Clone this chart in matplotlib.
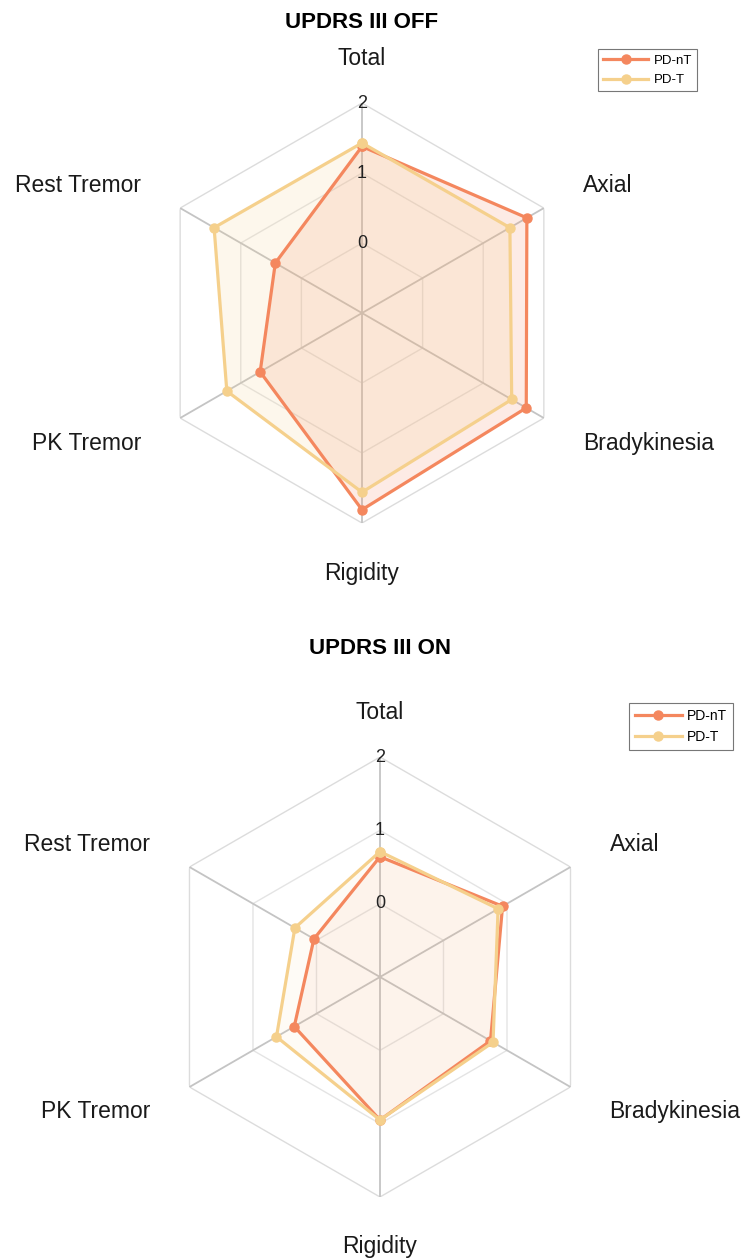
import numpy as np
import matplotlib
matplotlib.use("Agg")
import matplotlib.pyplot as plt

plt.rcParams['font.family'] = ['Liberation Sans', 'DejaVu Sans']

categories = ['Total', 'Axial', 'Bradykinesia', 'Rigidity', 'PK Tremor', 'Rest Tremor']
groups = ['PD-nT', 'PD-T']
colors = ['#f4875e', '#f5d08c']

off_pdnt = [1.38, 1.72, 1.71, 1.81, 0.68, 0.43]
off_pdt = [1.43, 1.44, 1.47, 1.56, 1.23, 1.44]
on_pdnt = [0.64, 0.93, 0.74, 0.95, 0.35, 0.04]
on_pdt = [0.71, 0.86, 0.78, 0.95, 0.63, 0.34]

r_ticks = [0, 1, 2]
r_min, r_max = -1, 2


def radar(ax, series, title, fill_alpha, title_pad):
    n = len(categories)
    angles = np.linspace(0, 2 * np.pi, n, endpoint=False)
    closed = np.append(angles, angles[0])

    ax.set_theta_zero_location('N')
    ax.set_theta_direction(-1)
    ax.set_ylim(r_min, r_max)
    ax.grid(False)
    ax.spines['polar'].set_visible(False)
    ax.set_xticks([])
    ax.set_yticks([])

    # hexagon rings and spokes
    for lev in r_ticks:
        col = '#dcdcdc' if lev == r_max else '#e4e4e4'
        ax.plot(closed, [lev] * (n + 1), color=col, lw=1.0, zorder=1)
    for a in angles:
        ax.plot([a, a], [r_min, r_max], color='#c4c4c4', lw=1.3, zorder=1)

    for vals, c in zip(series, colors):
        v = np.append(vals, vals[0])
        ax.fill(closed, v, color=c, alpha=fill_alpha, lw=0, zorder=2)
    for vals, c, g in zip(series, colors, groups):
        v = np.append(vals, vals[0])
        ax.plot(closed, v, color=c, lw=2.3, marker='o', ms=6.5, label=g, zorder=3)

    for lev in r_ticks:
        ax.text(0, lev, str(lev), ha='center', va='center', fontsize=13,
                color='#222222', zorder=4)

    # category labels just outside the outer hexagon
    for a, lab in zip(angles, categories):
        s, c = np.sin(a), np.cos(a)
        ha = 'center' if abs(s) < 0.1 else ('left' if s > 0 else 'right')
        dy = c * (45 if c > 0 else 50)
        ax.annotate(lab, xy=(a, r_max), xytext=(45 * s, dy),
                    textcoords='offset pixels', ha=ha, va='center',
                    fontsize=16.5, color='#1a1a1a', annotation_clip=False)

    ax.set_title(title, fontsize=16, fontweight='bold', pad=title_pad)


fig = plt.figure(figsize=(7.48, 12.6), dpi=100)
ax1 = fig.add_axes([0.2032, 0.5849, 0.5615, 0.3333], projection='polar')
ax2 = fig.add_axes([0.2139, 0.05, 0.5882, 0.3492], projection='polar')

radar(ax1, [off_pdnt, off_pdt], 'UPDRS III OFF', 0.16, 54)
radar(ax2, [on_pdnt, on_pdt], 'UPDRS III ON', 0.07, 74)

for ax, anchor, fs in [(ax1, (0.932, 0.961), 9.5), (ax2, (0.98, 0.442), 10)]:
    h, l = ax.get_legend_handles_labels()
    leg = fig.legend(h, l, loc='upper right', bbox_to_anchor=anchor,
                     fontsize=fs, fancybox=False, framealpha=1,
                     edgecolor='#777777', handlelength=3.4,
                     borderpad=0.4, labelspacing=0.55, handletextpad=0.4,
                     borderaxespad=0)
    leg.get_frame().set_linewidth(0.8)

fig.savefig('out.png', dpi=100, facecolor='white')
